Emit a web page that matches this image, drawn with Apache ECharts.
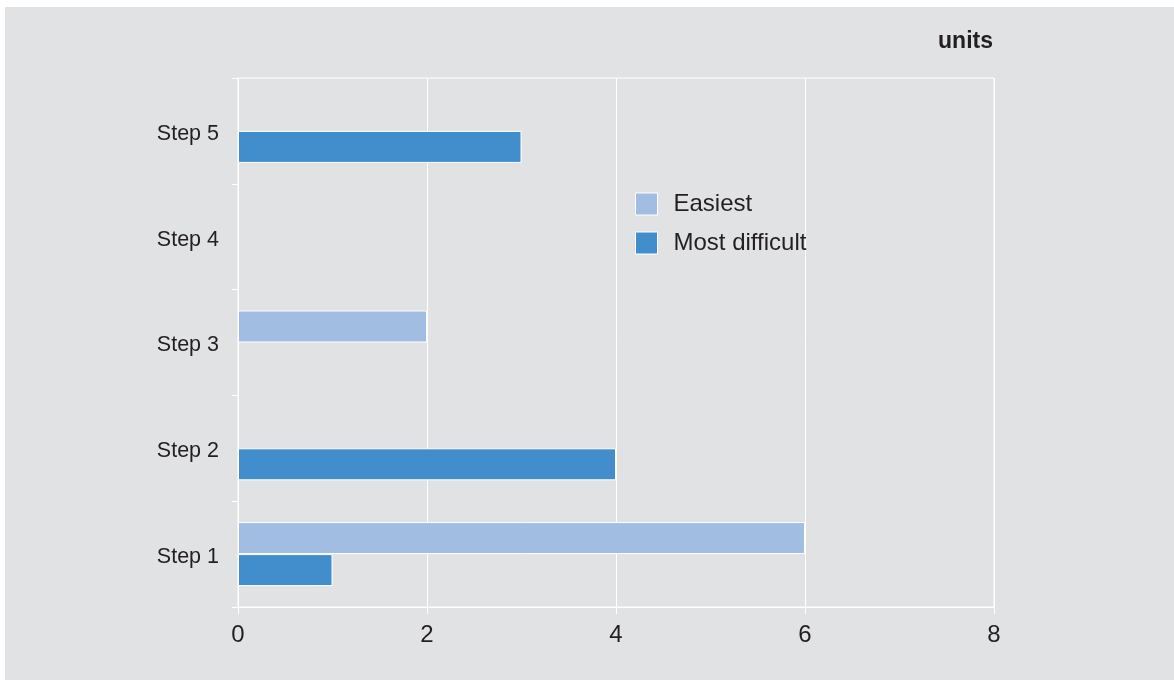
<!DOCTYPE html>
<html><head><meta charset="utf-8">
<script src="https://cdn.jsdelivr.net/npm/echarts@6/dist/echarts.min.js"></script>
<style>html,body{margin:0;padding:0;background:#fff}#c{width:1174px;height:680px}</style>
</head><body><div id="c"></div>
<script>
const categories = ['Step 1', 'Step 2', 'Step 3', 'Step 4', 'Step 5'];
const easiest = [6, null, 2, null, null];
const mostDifficult = [1, 4, null, null, 3];
const xTicks = [0, 2, 4, 6, 8];

const FONT = '"Liberation Sans", Arial, sans-serif';
const chart = echarts.init(document.getElementById('c'), null, {renderer: 'canvas'});
const white = '#ffffff';
chart.setOption({
  backgroundColor: '#ffffff',
  animation: false,
  textStyle: {fontFamily: FONT},
  graphic: [{
    type: 'rect', z: -10, silent: true,
    shape: {x: 5, y: 7, width: 1169, height: 673},
    style: {fill: '#e1e2e4'}
  }, {
    type: 'text', x: 993, y: 42,
    style: {text: 'units', font: 'bold 23px ' + FONT, fill: '#231f20', textAlign: 'right', textVerticalAlign: 'middle'}
  }],
  grid: {left: 238, right: 180, top: 78, bottom: 73, show: true, borderColor: white, borderWidth: 1, backgroundColor: 'transparent'},
  legend: {
    orient: 'vertical', left: 635, top: 192, padding: 0,
    icon: 'rect',
    itemWidth: 22, itemHeight: 22, itemGap: 15,
    itemStyle: {borderColor: white, borderWidth: 1},
    textStyle: {fontSize: 24, lineHeight: 22, color: '#231f20', fontFamily: FONT, padding: [0, 0, 0, 11]},
    data: ['Easiest', 'Most difficult']
  },
  xAxis: {
    type: 'value', min: xTicks[0], max: xTicks[xTicks.length - 1], interval: 2,
    axisLine: {show: true, lineStyle: {color: white, width: 1}},
    axisTick: {show: true, length: 7, lineStyle: {color: white}},
    splitLine: {show: true, lineStyle: {color: white, width: 1}},
    axisLabel: {fontSize: 24, color: '#231f20', margin: 16, fontFamily: FONT}
  },
  yAxis: {
    type: 'category', data: categories,
    axisLine: {show: true, lineStyle: {color: white, width: 1}},
    axisTick: {show: true, length: 6, lineStyle: {color: white}},
    splitLine: {show: false},
    axisLabel: {
      margin: 19,
      formatter: function (v) { return '{a|' + v + '}'; },
      rich: {a: {fontSize: 21.5, color: '#231f20', fontFamily: FONT, lineHeight: 24, padding: [6, 0, 0, 0]}}
    }
  },
  series: [{
    name: 'Easiest', type: 'bar', data: easiest,
    barWidth: 32, barGap: '0%',
    itemStyle: {color: '#a2bde2', borderColor: white, borderWidth: 1}
  }, {
    name: 'Most difficult', type: 'bar', data: mostDifficult,
    barWidth: 32, barGap: '0%',
    itemStyle: {color: '#428ecc', borderColor: white, borderWidth: 1}
  }]
});
</script></body></html>
